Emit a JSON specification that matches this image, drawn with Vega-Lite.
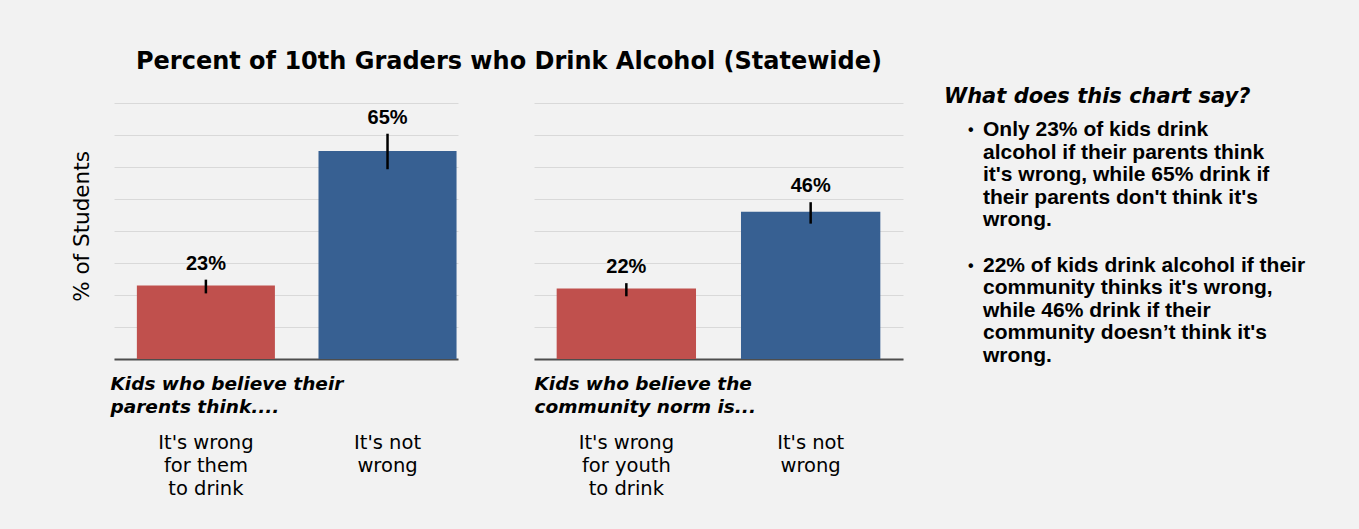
{
  "$schema": "https://vega.github.io/schema/vega-lite/v6.json",
  "background": "#f2f2f2",
  "padding": {"left": 71, "top": 50, "right": 90, "bottom": 40},
  "datasets": {
    "bars": [
      {"panel": "parents", "answer": "It's wrong\nfor them\nto drink", "group": "wrong", "pct": 0.23, "lo": 0.205, "hi": 0.248},
      {"panel": "parents", "answer": "It's not\nwrong", "group": "not", "pct": 0.65, "lo": 0.593, "hi": 0.704},
      {"panel": "community", "answer": "It's wrong\nfor youth\nto drink", "group": "wrong", "pct": 0.22, "lo": 0.196, "hi": 0.237},
      {"panel": "community", "answer": "It's not\nwrong", "group": "not", "pct": 0.46, "lo": 0.423, "hi": 0.49}
    ],
    "notes": [
      {"row": 0, "line": "Only 23% of kids drink", "bullet": true},
      {"row": 1, "line": "alcohol if their parents think", "bullet": false},
      {"row": 2, "line": "it's wrong, while 65% drink if", "bullet": false},
      {"row": 3, "line": "their parents don't think it's", "bullet": false},
      {"row": 4, "line": "wrong.", "bullet": false},
      {"row": 6, "line": "22% of kids drink alcohol if their", "bullet": true},
      {"row": 7, "line": "community thinks it's wrong,", "bullet": false},
      {"row": 8, "line": "while 46% drink if their", "bullet": false},
      {"row": 9, "line": "community doesn’t think it's", "bullet": false},
      {"row": 10, "line": "wrong.", "bullet": false}
    ]
  },
  "spacing": 41,
  "hconcat": [
    {
      "title": {
        "text": "Percent of 10th Graders who Drink Alcohol (Statewide)",
        "anchor": "middle",
        "dx": 22,
        "offset": 29,
        "font": "DejaVu Sans",
        "fontSize": 24,
        "fontWeight": "bold",
        "color": "black"
      },
      "spacing": 76,
      "resolve": {"scale": {"x": "independent", "y": "independent"}},
      "hconcat": [
        {
          "width": 344,
          "height": 256,
          "data": {"name": "bars"},
          "transform": [{"filter": "datum.panel === 'parents'"}],
          "encoding": {
            "x": {
              "field": "answer",
              "type": "nominal",
              "sort": null,
              "scale": {"paddingInner": 0.24, "paddingOuter": 0.067, "align": 0.94},
              "axis": {
                "title": ["Kids who believe their", "parents think...."],
                "titleFont": "DejaVu Sans",
                "titleFontSize": 18.5,
                "titleFontWeight": "bold",
                "titleFontStyle": "italic",
                "titleColor": "black",
                "titleAnchor": "start",
                "titleAlign": "left",
                "titleBaseline": "top",
                "titleX": -4,
                "titleY": 15,
                "titleLineHeight": 23,
                "labelExpr": "split(datum.label, '\\n')",
                "labelAngle": 0,
                "labelFont": "DejaVu Sans",
                "labelFontSize": 19.5,
                "labelColor": "black",
                "labelBaseline": "top",
                "labelLineHeight": 23,
                "labelPadding": 74,
                "ticks": false,
                "domainColor": "#4d4d4d",
                "domainWidth": 2
              }
            }
          },
          "layer": [
            {
              "mark": {"type": "bar"},
              "encoding": {
                "y": {
                  "field": "pct",
                  "type": "quantitative",
                  "title": "% of Students",
                  "scale": {"domain": [0, 0.8]},
                  "axis": {
                    "values": [0, 0.1, 0.2, 0.3, 0.4, 0.5, 0.6, 0.7, 0.8],
                    "labels": false,
                    "ticks": false,
                    "domain": false,
                    "grid": true,
                    "gridColor": "#d9d9d9",
                    "gridWidth": 1.2,
                    "minExtent": 0,
                    "titleX": -21,
                    "titleY": 123,
                    "titleFont": "DejaVu Sans",
                    "titleFontSize": 21.5,
                    "titleFontWeight": "normal",
                    "titleColor": "black"
                  }
                },
                "color": {
                  "field": "group",
                  "type": "nominal",
                  "scale": {"domain": ["wrong", "not"], "range": ["#c0504d", "#376092"]},
                  "legend": null
                }
              }
            },
            {
              "mark": {"type": "rule", "color": "black", "strokeWidth": 2.5},
              "encoding": {
                "y": {
                  "field": "lo",
                  "type": "quantitative",
                  "title": "% of Students",
                  "axis": {
                    "values": [0, 0.1, 0.2, 0.3, 0.4, 0.5, 0.6, 0.7, 0.8],
                    "labels": false,
                    "ticks": false,
                    "domain": false,
                    "grid": true,
                    "gridColor": "#d9d9d9",
                    "gridWidth": 1.2,
                    "minExtent": 0,
                    "titleX": -21,
                    "titleY": 123,
                    "titleFont": "DejaVu Sans",
                    "titleFontSize": 21.5,
                    "titleFontWeight": "normal",
                    "titleColor": "black"
                  }
                },
                "y2": {"field": "hi"}
              }
            },
            {
              "mark": {"type": "text", "font": "Liberation Sans", "fontSize": 20, "fontWeight": "bold", "color": "black", "baseline": "alphabetic", "dy": -10},
              "encoding": {
                "y": {
                  "field": "hi",
                  "type": "quantitative",
                  "title": "% of Students",
                  "axis": {
                    "values": [0, 0.1, 0.2, 0.3, 0.4, 0.5, 0.6, 0.7, 0.8],
                    "labels": false,
                    "ticks": false,
                    "domain": false,
                    "grid": true,
                    "gridColor": "#d9d9d9",
                    "gridWidth": 1.2,
                    "minExtent": 0,
                    "titleX": -21,
                    "titleY": 123,
                    "titleFont": "DejaVu Sans",
                    "titleFontSize": 21.5,
                    "titleFontWeight": "normal",
                    "titleColor": "black"
                  }
                },
                "text": {"field": "pct", "type": "quantitative", "format": ".0%"}
              }
            }
          ]
        },
        {
          "width": 369,
          "height": 256,
          "data": {"name": "bars"},
          "transform": [{"filter": "datum.panel === 'community'"}],
          "encoding": {
            "x": {
              "field": "answer",
              "type": "nominal",
              "sort": null,
              "scale": {"paddingInner": 0.244, "paddingOuter": 0.123, "align": 0.5},
              "axis": {
                "title": ["Kids who believe the", "community norm is..."],
                "titleFont": "DejaVu Sans",
                "titleFontSize": 18.5,
                "titleFontWeight": "bold",
                "titleFontStyle": "italic",
                "titleColor": "black",
                "titleAnchor": "start",
                "titleAlign": "left",
                "titleBaseline": "top",
                "titleX": 0,
                "titleY": 15,
                "titleLineHeight": 23,
                "labelExpr": "split(datum.label, '\\n')",
                "labelAngle": 0,
                "labelFont": "DejaVu Sans",
                "labelFontSize": 19.5,
                "labelColor": "black",
                "labelBaseline": "top",
                "labelLineHeight": 23,
                "labelPadding": 74,
                "ticks": false,
                "domainColor": "#4d4d4d",
                "domainWidth": 2
              }
            }
          },
          "layer": [
            {
              "mark": {"type": "bar"},
              "encoding": {
                "y": {
                  "field": "pct",
                  "type": "quantitative",
                  "title": null,
                  "scale": {"domain": [0, 0.8]},
                  "axis": {
                    "values": [0, 0.1, 0.2, 0.3, 0.4, 0.5, 0.6, 0.7, 0.8],
                    "labels": false,
                    "ticks": false,
                    "domain": false,
                    "grid": true,
                    "gridColor": "#d9d9d9",
                    "gridWidth": 1.2,
                    "minExtent": 0
                  }
                },
                "color": {
                  "field": "group",
                  "type": "nominal",
                  "scale": {"domain": ["wrong", "not"], "range": ["#c0504d", "#376092"]},
                  "legend": null
                }
              }
            },
            {
              "mark": {"type": "rule", "color": "black", "strokeWidth": 2.5},
              "encoding": {
                "y": {
                  "field": "lo",
                  "type": "quantitative",
                  "title": null,
                  "axis": {
                    "values": [0, 0.1, 0.2, 0.3, 0.4, 0.5, 0.6, 0.7, 0.8],
                    "labels": false,
                    "ticks": false,
                    "domain": false,
                    "grid": true,
                    "gridColor": "#d9d9d9",
                    "gridWidth": 1.2,
                    "minExtent": 0
                  }
                },
                "y2": {"field": "hi"}
              }
            },
            {
              "mark": {"type": "text", "font": "Liberation Sans", "fontSize": 20, "fontWeight": "bold", "color": "black", "baseline": "alphabetic", "dy": -10},
              "encoding": {
                "y": {
                  "field": "hi",
                  "type": "quantitative",
                  "title": null,
                  "axis": {
                    "values": [0, 0.1, 0.2, 0.3, 0.4, 0.5, 0.6, 0.7, 0.8],
                    "labels": false,
                    "ticks": false,
                    "domain": false,
                    "grid": true,
                    "gridColor": "#d9d9d9",
                    "gridWidth": 1.2,
                    "minExtent": 0
                  }
                },
                "text": {"field": "pct", "type": "quantitative", "format": ".0%"}
              }
            }
          ]
        }
      ]
    },
    {
      "width": 2,
      "height": 280,
      "data": {"name": "notes"},
      "title": {
        "text": "What does this chart say?",
        "anchor": "start",
        "offset": -4,
        "font": "DejaVu Sans",
        "fontSize": 21,
        "fontWeight": "bold",
        "fontStyle": "italic",
        "color": "black"
      },
      "encoding": {
        "y": {"field": "row", "type": "quantitative", "scale": {"domain": [-1.21, 11.21], "reverse": true}, "axis": null}
      },
      "layer": [
        {
          "mark": {"type": "text", "align": "left", "baseline": "middle", "dx": 38, "font": "Liberation Sans", "fontSize": 21, "fontWeight": "bold", "color": "black"},
          "encoding": {"text": {"field": "line", "type": "nominal"}}
        },
        {
          "transform": [{"filter": "datum.bullet"}],
          "mark": {"type": "text", "align": "left", "baseline": "middle", "dx": 23, "font": "Liberation Sans", "fontSize": 16, "fontWeight": "bold", "color": "black"},
          "encoding": {"text": {"value": "•"}}
        }
      ]
    }
  ],
  "config": {
    "view": {"stroke": null}
  }
}
